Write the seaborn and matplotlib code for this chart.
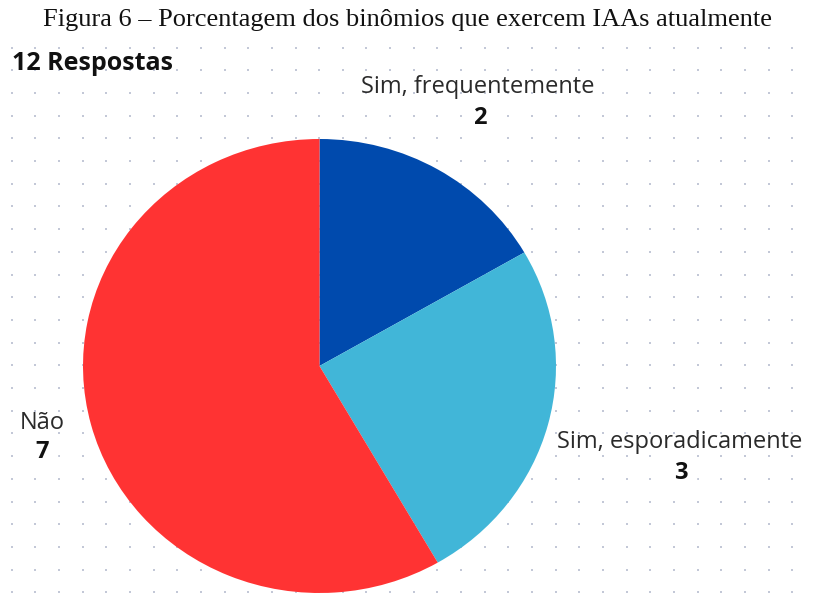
import numpy as np
import pandas as pd
import matplotlib
matplotlib.use("Agg")
import matplotlib.pyplot as plt
import seaborn as sns

# ---- data ----
categories = ["Sim, frequentemente", "Sim, esporadicamente", "Não"]
counts = [2, 3, 7]
total_label = "12 Respostas"
title = "Figura 6 – Porcentagem dos binômios que exercem IAAs atualmente"

sns.set_theme(style="white")
plt.rcParams["font.family"] = ["Open Sans", "DejaVu Sans"]

colors = ["#004AAD", "#41B6D8", "#FF3333"]

W, H = 813, 596
fig = plt.figure(figsize=(W / 100, H / 100), dpi=100)
fig.patch.set_facecolor("white")

# background axes in pixel coordinates
bg = fig.add_axes([0, 0, 1, 1])

# dotted background grid
gx = np.arange(11.7, W, 23.65)
gy = np.arange(47.6, H, 22.7)
XX, YY = np.meshgrid(gx, gy)
grid = pd.DataFrame({"x": XX.ravel(), "y": YY.ravel()})
sns.scatterplot(data=grid, x="x", y="y", ax=bg, marker="s", s=4,
                color="#C3C8D7", linewidth=0, legend=False, zorder=1)
bg.set_xlim(0, W)
bg.set_ylim(H, 0)
bg.axis("off")

# pie axes (slightly elliptical, as in the reference)
left, right, top, bottom = 83, 556, 139, 593
pax = fig.add_axes([left / W, 1 - bottom / H, (right - left) / W, (bottom - top) / H])
pax.pie(counts, colors=colors, startangle=90, counterclock=False, radius=1,
        wedgeprops=dict(linewidth=0))
pax.set_aspect("auto")
pax.set_xlim(-1, 1)
pax.set_ylim(-1, 1)
pax.axis("off")
pax.patch.set_alpha(0)

# texts
bg.text(407, 20, title, ha="center", va="center", fontsize=19,
        family=["Liberation Serif", "DejaVu Serif"], color="#111111")
bg.text(12, 63, total_label, ha="left", va="center", fontsize=18,
        fontweight="bold", color="#111111")

label_pos = [(478, 87), (680, 442), (42, 423)]
num_pos = [(480, 118), (681, 473), (42, 452)]
for cat, n, (lx, ly), (nx, ny) in zip(categories, counts, label_pos, num_pos):
    bg.text(lx, ly, cat, ha="center", va="center", fontsize=17, color="#2A2A2A", zorder=5)
    bg.text(nx, ny, str(n), ha="center", va="center", fontsize=17, fontweight="bold",
            color="#111111", zorder=5,
            bbox=dict(boxstyle="round,pad=0.4", fc="white", ec="none"))

fig.savefig("out.png", dpi=100)
